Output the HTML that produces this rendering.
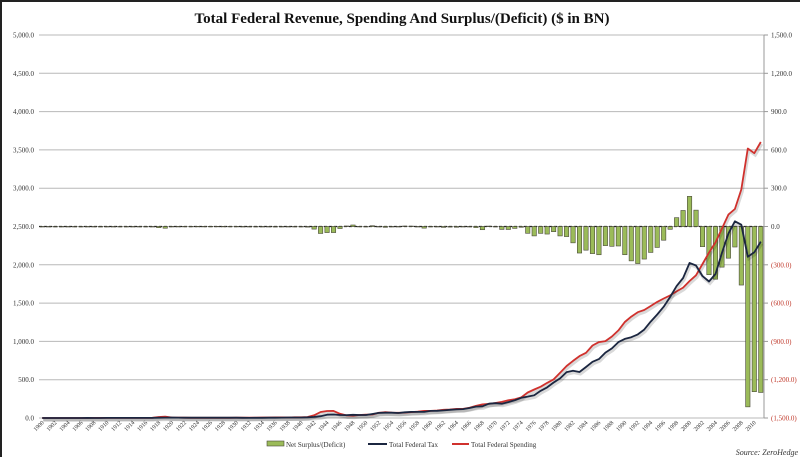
<!DOCTYPE html>
<html><head><meta charset="utf-8"><style>
html,body{margin:0;padding:0;background:#fff}
#wrap{position:relative;width:800px;height:457px;overflow:hidden;box-sizing:border-box;border-left:2px solid #222;border-top:2px solid #222}
svg{position:absolute;left:0;top:0;font-family:"Liberation Serif",serif}
</style></head><body>
<div id="wrap">
<svg id="chart" width="800" height="457"></svg>
</div>
<script>
const years = [];
for (let y = 1900; y <= 2011; y++) years.push(y);
const taxValues = [0.6,0.6,0.6,0.6,0.5,0.5,0.6,0.7,0.6,0.6,0.7,0.7,0.7,0.7,0.7,0.7,0.8,1.1,3.6,5.1,6.6,5.6,4.0,3.9,3.9,3.6,3.8,4.0,3.9,3.9,4.1,3.1,1.9,2.0,3.0,3.6,3.9,5.4,6.8,6.3,6.5,8.7,14.6,24.0,43.7,45.2,39.3,38.5,41.6,39.4,39.4,51.6,66.2,69.6,69.7,65.5,74.6,80.0,79.6,79.2,92.5,94.4,99.7,106.6,112.6,116.8,130.8,148.8,153.0,186.9,192.8,187.1,207.3,230.8,263.2,279.1,298.1,355.6,399.6,463.3,517.1,599.3,617.8,600.6,666.4,734.0,769.2,854.3,909.2,991.1,1032.0,1055.0,1091.2,1154.3,1258.6,1351.8,1453.1,1579.2,1721.7,1827.5,2025.2,1991.1,1853.1,1782.3,1880.1,2153.6,2406.9,2568.0,2524.0,2105.0,2163.0,2303.0];
const spendValues = [0.5,0.5,0.5,0.5,0.6,0.6,0.6,0.6,0.7,0.7,0.7,0.7,0.7,0.7,0.7,0.7,0.7,2.0,12.7,18.5,6.4,5.1,3.3,3.1,2.9,2.9,2.9,2.9,3.0,3.1,3.3,3.6,4.7,4.6,6.5,6.4,8.2,7.6,6.8,9.1,9.5,13.7,35.1,78.6,91.3,92.7,55.2,34.5,29.8,38.8,42.6,45.5,67.7,76.1,70.9,68.4,70.6,76.6,82.4,92.1,92.2,97.7,106.8,111.3,118.5,118.2,134.5,157.5,178.1,183.6,195.6,210.2,230.7,245.7,269.4,332.3,371.8,409.2,458.7,504.0,590.9,678.2,745.7,808.4,851.8,946.3,990.4,1004.0,1064.4,1143.7,1253.0,1324.2,1381.5,1409.4,1461.8,1515.7,1560.5,1601.1,1652.5,1701.8,1789.0,1862.8,2010.9,2159.9,2292.8,2472.0,2655.0,2728.0,2982.5,3517.7,3457.0,3603.0];
const surplusValues = [0.1,0,0.1,0.1,0,0,0,0.1,0,0,0,0,0,0,0,0,0.1,-0.9,-9.0,-13.4,0.3,0.5,0.7,0.7,1.0,0.7,0.9,1.2,0.9,0.7,0.7,-0.5,-2.7,-2.6,-3.6,-2.8,-4.3,-2.2,-0.1,-2.8,-2.9,-4.9,-20.5,-54.6,-47.6,-47.6,-15.9,4.0,11.8,0.6,-3.1,6.1,-1.5,-6.5,-1.2,-3.0,3.9,3.4,-2.8,-12.8,0.3,-3.3,-7.1,-4.8,-5.9,-1.4,-3.7,-8.6,-25.2,3.2,-2.8,-23.0,-23.4,-14.9,-6.1,-53.2,-73.7,-53.7,-59.2,-40.7,-73.8,-79.0,-128.0,-207.8,-185.4,-212.3,-221.2,-149.7,-155.2,-152.6,-221.0,-269.2,-290.3,-255.1,-203.2,-164.0,-107.4,-21.9,69.3,125.6,236.2,128.2,-157.8,-377.6,-412.7,-318.3,-248.2,-160.7,-458.6,-1412.7,-1294.0,-1300.0];
const leftTicks = [0,500,1000,1500,2000,2500,3000,3500,4000,4500,5000];
const rightTicks = [-1500,-1200,-900,-600,-300,0,300,600,900,1200,1500];

const NS = "http://www.w3.org/2000/svg";
const svg = document.getElementById('chart');
const X0 = 37, X1 = 762, YT = 33, YB = 416;
const step = (X1 - X0) / years.length;
const xPos = i => X0 + step * (i + 0.5);
const yLeft = v => YB - (v / 5000) * (YB - YT);
const yRight = v => YB - ((v + 1500) / 3000) * (YB - YT);
function el(tag, attrs, parent) {
  const e = document.createElementNS(NS, tag);
  for (const k in attrs) e.setAttribute(k, attrs[k]);
  (parent || svg).appendChild(e);
  return e;
}
const fmt = v => Math.abs(v).toLocaleString('en-US', {minimumFractionDigits:1, maximumFractionDigits:1});

const title = el('text', {x:400, y:21, 'text-anchor':'middle', 'font-size':'15', 'font-weight':'bold', fill:'#111'});
title.textContent = 'Total Federal Revenue, Spending And Surplus/(Deficit) ($ in BN)';



leftTicks.forEach(t => {
  const y = yLeft(t);
  const g = el('line', {x1:X0, x2:X1, y1:y, y2:y, stroke:'#b8b8b8', 'stroke-width':1});
  
  
  const lb = el('text', {x:X0 - 5, y:y + 2.5, 'text-anchor':'end', 'font-size':'7', fill:'#333'});
  lb.textContent = fmt(t);
  
  
});
rightTicks.forEach(t => {
  const y = yRight(t);
  const lb = el('text', {x:X1 + 7, y:y + 2.5, 'font-size':'7', fill: t < 0 ? '#c0392b' : '#333'});
  lb.textContent = t < 0 ? '(' + fmt(t) + ')' : fmt(t);
  
  
  const tk = el('line', {x1:X1, x2:X1 + 4, y1:y, y2:y, stroke:'#999'});
  
  
});
const ra = el('line', {x1:X1, x2:X1, y1:YT, y2:YB, stroke:'#999'});



const zl = el('line', {x1:X0, x2:X1, y1:yRight(0), y2:yRight(0), stroke:'#222', 'stroke-width':1.3, 'stroke-dasharray':'3,2'});



surplusValues.forEach((v, i) => {
  const y0 = yRight(0), y1 = yRight(v);
  const b = el('rect', {x:xPos(i) - 2.2, y:Math.min(y0, y1), width:4.4, height:Math.max(Math.abs(y1 - y0), 0.5), fill:'#9bbb59', stroke:'#4a4a3a', 'stroke-width':0.6});
  
  
});

function line(vals, color, name) {
  const d = vals.map((v, i) => (i ? 'L' : 'M') + xPos(i).toFixed(1) + ' ' + yLeft(v).toFixed(1)).join(' ');
  const sh = el('path', {d:d, fill:'none', stroke:'rgba(0,0,0,0.15)', 'stroke-width':3, transform:'translate(1,2)'});
  
  
  const p = el('path', {d:d, fill:'none', stroke:color, 'stroke-width':1.8, 'stroke-linejoin':'round'});
  
  
}
line(spendValues, '#d0312d', 'spending-line');
line(taxValues, '#1b2640', 'tax-line');

years.forEach((yr, i) => {
  if (i % 2) return;
  const x = xPos(i), y = 421;
  const t = el('text', {x:x + 2, y:y, 'text-anchor':'end', 'font-size':'6', fill:'#333', transform:`rotate(-45 ${x + 2} ${y})`});
  t.textContent = yr;
  
  
});

const lg = el('g', {});


const lb1 = el('rect', {x:265, y:439, width:17, height:5, fill:'#9bbb59', stroke:'#4a4a3a', 'stroke-width':0.6}, lg);


const lt1 = el('text', {x:284, y:445, 'font-size':'7', fill:'#333'}, lg);
lt1.textContent = 'Net Surplus/(Deficit)';


const lb2 = el('line', {x1:366, x2:385, y1:442, y2:442, stroke:'#1b2640', 'stroke-width':2}, lg);


const lt2 = el('text', {x:387, y:445, 'font-size':'7', fill:'#333'}, lg);
lt2.textContent = 'Total Federal Tax';


const lb3 = el('line', {x1:450, x2:467, y1:442, y2:442, stroke:'#d0312d', 'stroke-width':2}, lg);


const lt3 = el('text', {x:469, y:445, 'font-size':'7', fill:'#333'}, lg);
lt3.textContent = 'Total Federal Spending';



const src = el('text', {x:796, y:453, 'text-anchor':'end', 'font-size':'8', 'font-style':'italic', fill:'#333'});
src.textContent = 'Source: ZeroHedge';


</script>
</body></html>
